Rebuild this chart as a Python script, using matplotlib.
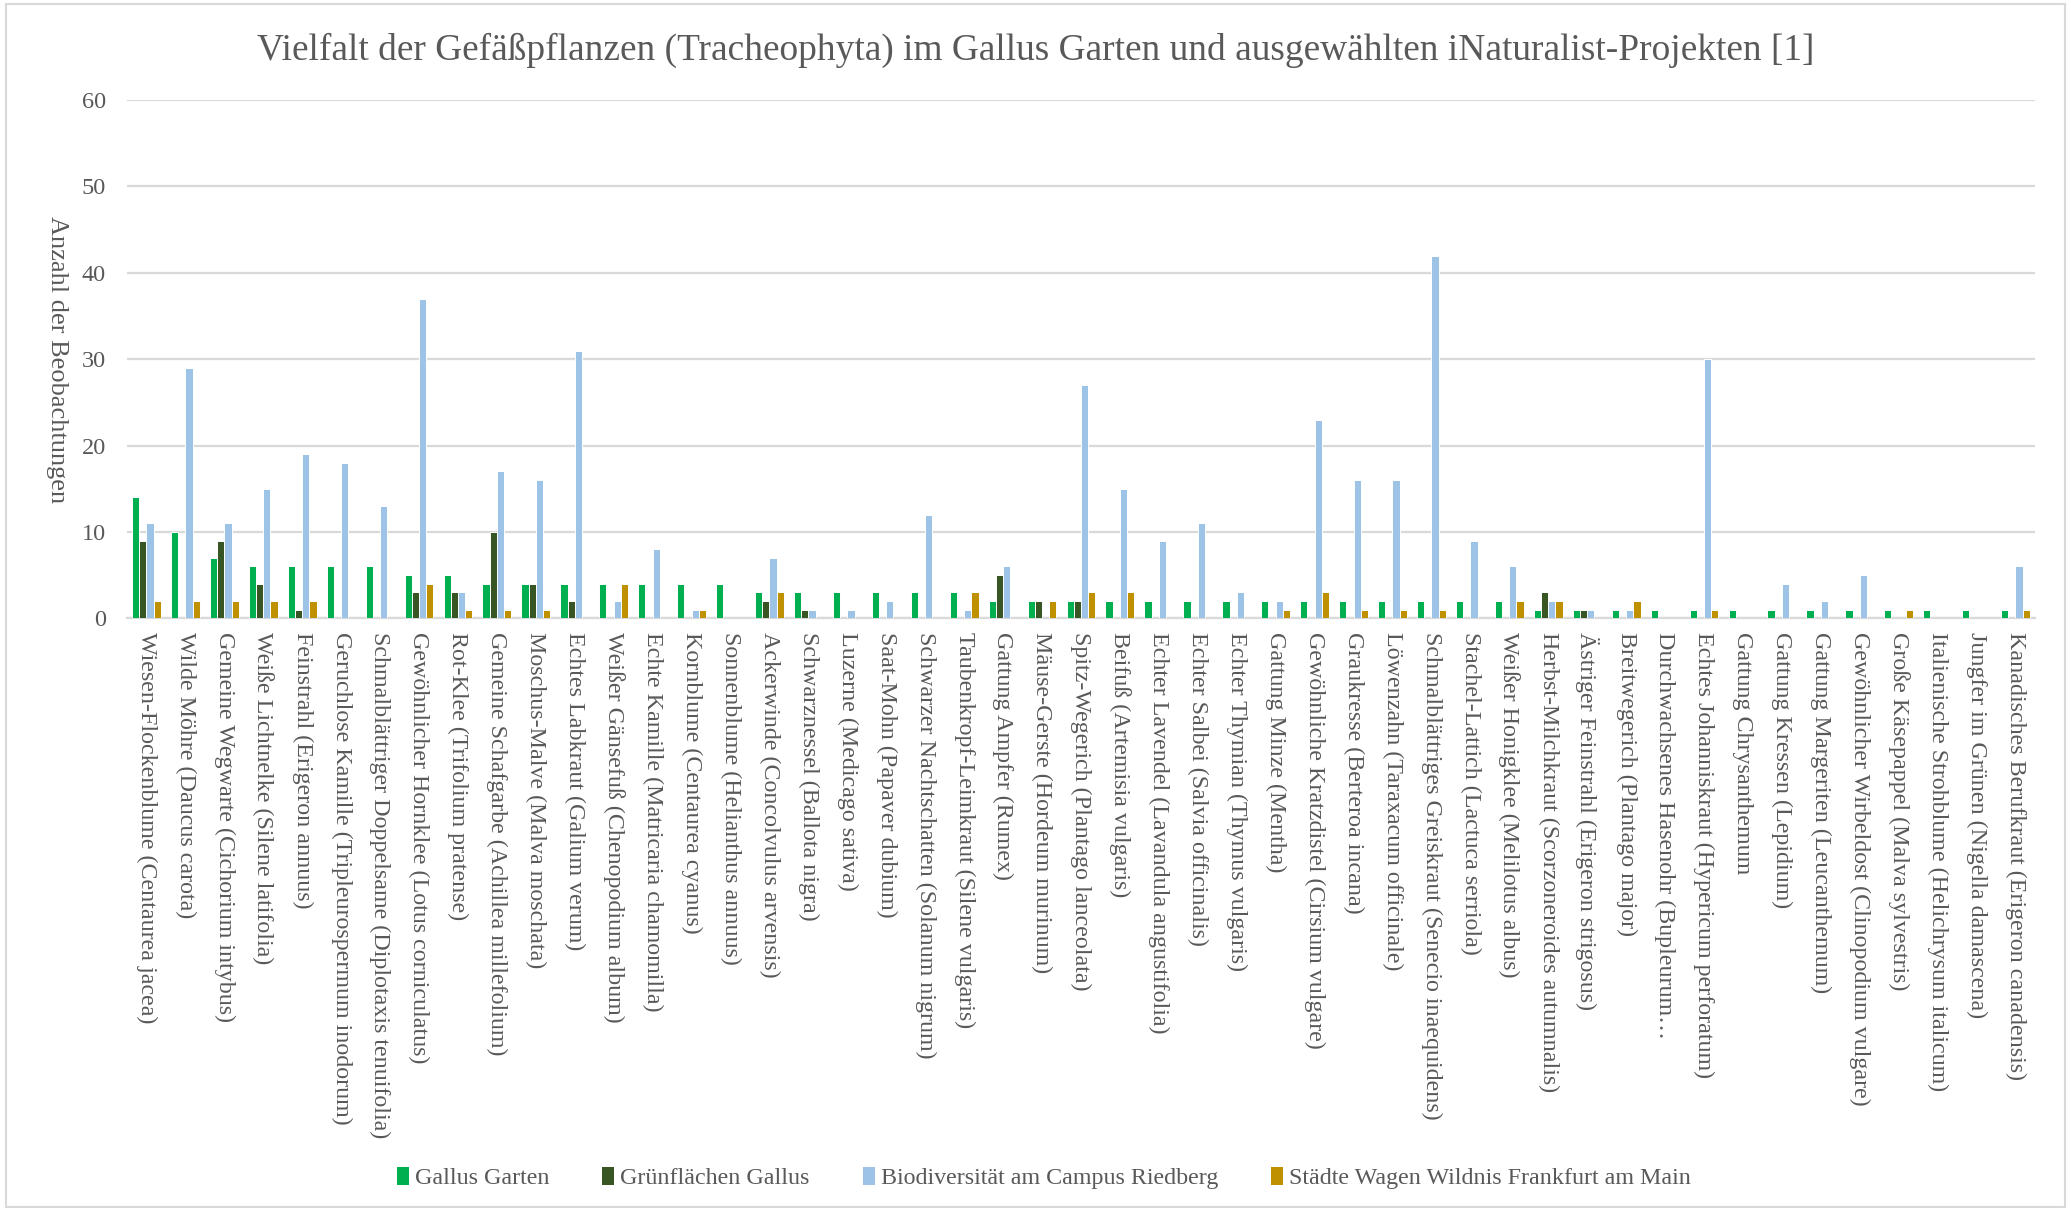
import numpy as np
import matplotlib
matplotlib.use("Agg")
import matplotlib.pyplot as plt
from matplotlib.patches import Patch, Rectangle

SERIF = ['Liberation Serif', 'DejaVu Serif']
plt.rcParams['font.family'] = SERIF

title = "Vielfalt der Gefäßpflanzen (Tracheophyta) im Gallus Garten und ausgewählten iNaturalist-Projekten [1]"
y_label = "Anzahl der Beobachtungen"

species = [
    "Wiesen-Flockenblume (Centaurea jacea)",
    "Wilde Möhre (Daucus carota)",
    "Gemeine Wegwarte (Cichorium intybus)",
    "Weiße Lichtnelke (Silene latifolia)",
    "Feinstrahl (Erigeron annuus)",
    "Geruchlose Kamille (Tripleurospermum inodorum)",
    "Schmalblättriger Doppelsame (Diplotaxis tenuifolia)",
    "Gewöhnlicher Hornklee (Lotus corniculatus)",
    "Rot-Klee (Trifolium pratense)",
    "Gemeine Schafgarbe (Achillea millefolium)",
    "Moschus-Malve (Malva moschata)",
    "Echtes Labkraut (Galium verum)",
    "Weißer Gänsefuß (Chenopodium album)",
    "Echte Kamille (Matricaria chamomilla)",
    "Kornblume (Centaurea cyanus)",
    "Sonnenblume (Helianthus annuus)",
    "Ackerwinde (Concolvulus arvensis)",
    "Schwarznessel (Ballota nigra)",
    "Luzerne (Medicago sativa)",
    "Saat-Mohn (Papaver dubium)",
    "Schwarzer Nachtschatten (Solanum nigrum)",
    "Taubenkropf-Leimkraut (Silene vulgaris)",
    "Gattung Ampfer (Rumex)",
    "Mäuse-Gerste (Hordeum murinum)",
    "Spitz-Wegerich (Plantago lanceolata)",
    "Beifuß (Artemisia vulgaris)",
    "Echter Lavendel (Lavandula angustifolia)",
    "Echter Salbei (Salvia officinalis)",
    "Echter Thymian (Thymus vulgaris)",
    "Gattung Minze (Mentha)",
    "Gewöhnliche Kratzdistel (Cirsium vulgare)",
    "Graukresse (Berteroa incana)",
    "Löwenzahn (Taraxacum officinale)",
    "Schmalblättriges Greiskraut (Senecio inaequidens)",
    "Stachel-Lattich (Lactuca serriola)",
    "Weißer Honigklee (Melilotus albus)",
    "Herbst-Milchkraut (Scorzoneroides autumnalis)",
    "Ästriger Feinstrahl (Erigeron strigosus)",
    "Breitwegerich (Plantago major)",
    "Durchwachsenes Hasenohr (Bupleurum…",
    "Echtes Johanniskraut (Hypericum perforatum)",
    "Gattung Chrysanthemum",
    "Gattung Kressen (Lepidium)",
    "Gattung Margeriten (Leucanthemum)",
    "Gewöhnlicher Wirbeldost (Clinopodium vulgare)",
    "Große Käsepappel (Malva sylvestris)",
    "Italienische Strohblume (Helichrysum italicum)",
    "Jungfer im Grünen (Nigella damascena)",
    "Kanadisches Berufkraut (Erigeron canadensis)",
]

series_names = [
    "Gallus Garten",
    "Grünflächen Gallus",
    "Biodiversität am Campus Riedberg",
    "Städte Wagen Wildnis Frankfurt am Main",
]

gallus_garten = [14, 10, 7, 6, 6, 6, 6, 5, 5, 4, 4, 4, 4, 4, 4, 4, 3, 3, 3, 3, 3, 3,
                 2, 2, 2, 2, 2, 2, 2, 2, 2, 2, 2, 2, 2, 2, 1, 1, 1, 1, 1, 1, 1, 1, 1,
                 1, 1, 1, 1]
gruenflaechen_gallus = [9, 0, 9, 4, 1, 0, 0, 3, 3, 10, 4, 2, 0, 0, 0, 0, 2, 1, 0, 0, 0, 0,
                        5, 2, 2, 0, 0, 0, 0, 0, 0, 0, 0, 0, 0, 0, 3, 1, 0, 0, 0, 0, 0, 0, 0,
                        0, 0, 0, 0]
campus_riedberg = [11, 29, 11, 15, 19, 18, 13, 37, 3, 17, 16, 31, 2, 8, 1, 0, 7, 1, 1, 2, 12, 1,
                   6, 0, 27, 15, 9, 11, 3, 2, 23, 16, 16, 42, 9, 6, 2, 1, 1, 0, 30, 0, 4, 2, 5,
                   0, 0, 0, 6]
staedte_wildnis = [2, 2, 2, 2, 2, 0, 0, 4, 1, 1, 1, 0, 4, 0, 1, 0, 3, 0, 0, 0, 0, 3,
                   0, 2, 3, 3, 0, 0, 0, 1, 3, 1, 1, 1, 0, 2, 2, 0, 2, 0, 1, 0, 0, 0, 0,
                   1, 0, 0, 1]

series_values = [gallus_garten, gruenflaechen_gallus, campus_riedberg, staedte_wildnis]
series_colors = ["#00B050", "#375623", "#9DC3E6", "#BF9000"]

y_ticks = [0, 10, 20, 30, 40, 50, 60]

text_color = "#595959"
grid_color = "#D9D9D9"

fig = plt.figure(figsize=(20.71, 12.11), dpi=100)
ax = fig.add_axes([0.0613, 0.4895, 0.9213, 0.4278])

x = np.arange(len(species))
bar_w = 0.185
offsets = (np.arange(len(series_values)) - 1.5) * bar_w
for vals, col, off, name in zip(series_values, series_colors, offsets, series_names):
    ax.bar(x + off, vals, width=bar_w, color=col, edgecolor="white",
           linewidth=0.7, label=name, zorder=3)

ax.set_xlim(-0.5, len(species) - 0.5)
ax.set_ylim(0, 60)
ax.set_yticks(y_ticks)
ax.set_yticklabels([str(t) for t in y_ticks], fontsize=17.5, color=text_color,
                   family=SERIF)
ax.set_xticks(x)
ax.set_xticklabels(species, rotation=270, ha="center", va="top",
                   fontsize=17.3, color=text_color, family=SERIF)
ax.tick_params(axis="both", length=0)
ax.tick_params(axis="y", pad=15)
ax.tick_params(axis="x", pad=10)
ax.yaxis.grid(True, color=grid_color, linewidth=1.6, zorder=0)
ax.set_axisbelow(True)
for side in ["top", "right", "left"]:
    ax.spines[side].set_visible(False)
ax.spines["bottom"].set_color(grid_color)
ax.spines["bottom"].set_linewidth(1.6)

ax.set_ylabel(y_label, rotation=270, fontsize=19, color=text_color,
              labelpad=0, va="center", ha="center", family=SERIF)
ax.yaxis.set_label_coords(-0.0367, 0.5)

fig.text(0.5, 0.958, title, ha="center", va="center", fontsize=26.9,
         color=text_color, family=SERIF)

handles = [Patch(facecolor=c, edgecolor="none") for c in series_colors]
fig.legend(handles, series_names, loc="center", bbox_to_anchor=(0.504, 0.027),
           ncol=4, frameon=False, labelcolor=text_color,
           prop={'family': SERIF, 'size': 17.3},
           handlelength=0.5, handleheight=0.75, handletextpad=0.25,
           columnspacing=2.2)

fig.patches.append(Rectangle((0.003, 0.003), 0.994, 0.994, transform=fig.transFigure,
                             fill=False, edgecolor=grid_color, linewidth=1.5))

fig.savefig("out.png", dpi=100, facecolor="white")
